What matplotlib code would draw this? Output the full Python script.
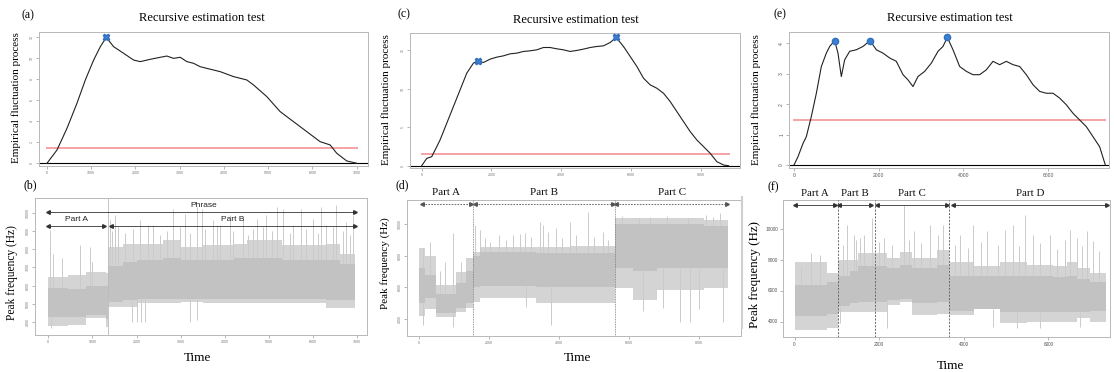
import matplotlib
matplotlib.use('Agg')
import matplotlib.pyplot as plt
import bisect

W, H = 1114, 372

# ---------------- data: top panels (empirical fluctuation process) ----------------
a_t = [0, 226, 452, 677, 866, 1054, 1205, 1340, 1505, 1731, 1957, 2108, 2333, 2559, 2710,
       2860, 3011, 3161, 3312, 3462, 3613, 3914, 4215, 4516, 4667, 4968, 5269, 5570, 5871,
       6172, 6398, 6548, 6774, 7000]
a_v = [0, 1.26, 3.32, 5.69, 7.90, 9.79, 11.06, 11.94, 11.06, 10.43, 9.79, 9.64, 9.86, 10.05,
       10.17, 9.95, 10.05, 9.64, 9.48, 9.16, 9.00, 8.69, 8.22, 7.90, 7.43, 6.32, 4.90, 3.95,
       3.00, 2.05, 1.74, 0.95, 0.22, 0.0]
a_bound = 1.48
a_brk_t = [1340]
a_brk_v = [11.94]

c_t = [0, 144, 287, 383, 526, 718, 909, 1101, 1292, 1483, 1608, 1770, 1962, 2153, 2345, 2536,
       2727, 2919, 3110, 3302, 3493, 3684, 3876, 4067, 4259, 4450, 4641, 4833, 5024, 5216,
       5407, 5579, 5790, 5981, 6173, 6364, 6555, 6747, 6938, 7130, 7321, 7512, 7704, 7895,
       8087, 8278, 8469, 8661, 8804]
c_v = [0, 0.95, 1.17, 2.03, 3.33, 5.50, 7.66, 9.83, 11.99, 13.29, 13.59, 13.38, 13.81, 14.07,
       14.24, 14.50, 14.59, 14.81, 14.89, 15.02, 15.32, 15.32, 15.15, 15.02, 14.81, 14.94,
       15.11, 15.32, 15.45, 15.54, 15.97, 16.62, 15.45, 14.16, 12.86, 11.34, 10.48, 10.04,
       9.39, 8.31, 7.01, 5.71, 4.42, 3.33, 2.47, 1.60, 0.52, 0.09, 0.0]
c_bound = 1.52
c_brk_t = [1608, 5579]
c_brk_v = [13.59, 16.62]

e_t = [0, 94, 213, 291, 409, 528, 646, 764, 843, 961, 1039, 1118, 1197, 1315, 1472, 1630,
       1795, 1945, 2102, 2260, 2417, 2575, 2693, 2811, 2929, 3087, 3244, 3402, 3520, 3622,
       3756, 3913, 4071, 4228, 4386, 4543, 4701, 4858, 5016, 5173, 5331, 5488, 5646, 5803,
       5961, 6118, 6276, 6433, 6591, 6748, 6906, 7063, 7220, 7354]
e_v = [0, 0.27, 0.71, 0.93, 1.59, 2.36, 3.24, 3.68, 3.90, 4.09, 3.68, 2.91, 3.46, 3.74, 3.79,
       3.90, 4.09, 3.79, 3.68, 3.52, 3.41, 2.97, 2.80, 2.58, 2.91, 3.08, 3.35, 3.74, 3.90,
       4.20, 3.79, 3.24, 3.08, 2.97, 2.97, 3.13, 3.41, 3.30, 3.41, 3.30, 3.24, 2.97, 2.64,
       2.42, 2.36, 2.36, 2.20, 1.98, 1.70, 1.48, 1.26, 0.93, 0.60, 0.0]
e_bound = 1.47
e_brk_t = [961, 1795, 3622]
e_brk_v = [4.09, 4.09, 4.20]

# ---------------- data: bottom panels (peak frequency) ----------------
b_seg = [0, 450, 850, 1300, 1350, 1700, 2000, 2600, 3000, 3500, 4200, 4500, 5300, 5800, 6300, 6600, 6950]
b_out_lo = [3800, 3850, 4220, 3760, 4850, 4850, 5040, 5040, 5130, 5040, 5040, 5040, 5040, 5040, 4760, 4760]
b_out_hi = [6500, 6580, 6730, 6700, 8130, 8300, 8300, 8490, 8130, 8220, 8300, 8490, 8220, 8220, 8300, 7760]
b_core_lo = [4300, 4300, 4400, 4200, 5130, 5200, 5300, 5300, 5300, 5300, 5300, 5300, 5300, 5300, 5200, 5200]
b_core_hi = [5900, 5800, 6000, 6000, 7100, 7300, 7400, 7500, 7400, 7400, 7500, 7500, 7400, 7400, 7400, 7200]
b_spk_t = [38, 113, 717, 943, 1396, 1509, 2075, 2264, 2830, 3094, 3358, 3472, 3736, 3887, 4113,
           4415, 4717, 4943, 5170, 5321, 5736, 6000, 6189, 6302, 6528, 6755, 6906,
           1434, 1585, 1736, 1924, 2377, 2528, 2679, 2981, 3207, 3547, 3811, 4189, 4528,
           4642, 4868, 5057, 5472, 5547, 5849, 6113, 6453, 6679, 6830, 300, 1000]
b_spk_v = [9036, 7763, 8218, 8127, 9581, 9854, 9581, 9309, 10218, 9945, 10309, 10218, 9581, 9309,
           9854, 9763, 9672, 9854, 10309, 10218, 10218, 9672, 10309, 9309, 10400, 9490, 9854,
           9000, 9200, 8900, 9100, 9300, 8800, 9000, 9200, 8900, 9100, 9300, 9000, 8800,
           9100, 9200, 9000, 8900, 9300, 9100, 8900, 9200, 9000, 8800, 7500, 7300]
b_low_t = [60, 1900, 2000, 2100, 2200, 3200, 3380]
b_low_v = [3700, 4040, 4000, 4040, 4040, 4040, 4130]
b_vline = [1343]
b_parts = ["Part A", "Part B"]
b_part_start = [0, 1419]
b_part_end = [1268, 6943]

d_seg = [0, 170, 500, 1075, 1360, 1550, 1740, 3360, 4310, 5617, 6120, 6790, 8150, 8835]
d_out_lo = [4200, 4600, 4150, 4460, 4670, 5100, 5300, 4990, 4990, 5940, 5200, 5800, 5940]
d_out_hi = [8500, 8000, 6150, 6990, 7830, 8250, 8570, 8570, 8630, 10360, 10360, 10360, 10250]
d_core_lo = [5000, 5300, 4400, 4700, 5000, 6000, 6100, 6000, 6000, 7200, 7000, 7200, 7200]
d_core_hi = [7200, 6800, 5600, 6300, 7000, 8000, 8250, 8200, 8200, 10000, 10000, 10000, 9900]
d_spk_t = [124, 314, 743, 980, 1600, 1742, 2028, 2694, 3027, 3475, 3551, 3932, 4313, 4836, 5264,
           6597, 8400, 8596, 1900, 2300, 2500, 2900, 3200, 3700, 4100, 4500, 5000, 5400,
           5800, 6300, 7100, 7700, 8200, 600, 1200]
d_spk_v = [8460, 8880, 7620, 9410, 9940, 9620, 8880, 9300, 9410, 10150, 9940, 9730, 10150, 10780,
           9520, 10460, 10460, 10670, 9100, 9300, 9000, 9400, 9200, 9500, 9100, 9300, 9200,
           9000, 10500, 10400, 10500, 10400, 10550, 7000, 7600]
d_low_t = [124, 980, 3075, 3789, 6978, 7454, 7740, 8692, 6400, 8000]
d_low_v = [3620, 3500, 4780, 3620, 4670, 3830, 3830, 3830, 4500, 4600]
d_vline = [1552, 5617]
d_parts = ["Part A", "Part B", "Part C"]
d_part_start = [84, 1600, 5645]
d_part_end = [1500, 5550, 8800]

f_seg = [0, 760, 1016, 1300, 1510, 1890, 2180, 2500, 2770, 3360, 3660, 4230, 4860, 5490, 6120, 6430, 6670, 6980, 7354]
f_out_lo = [3460, 3600, 4650, 4650, 4650, 4650, 5090, 5300, 4430, 4520, 4430, 4870, 3890, 4000, 4000, 4000, 4220, 4000]
f_out_hi = [7910, 7150, 8020, 8020, 8460, 8460, 8130, 8520, 8130, 8670, 7910, 7590, 7870, 7700, 7590, 7870, 7480, 7150]
f_core_lo = [4400, 4500, 5000, 5200, 5300, 5300, 5400, 5500, 5200, 5300, 4700, 4800, 4600, 4650, 4650, 4650, 4650, 4700]
f_core_hi = [6400, 6600, 7000, 7300, 7600, 7600, 7500, 7700, 7500, 7700, 7000, 7000, 7000, 7000, 6900, 7000, 6800, 6600]
f_spk_t = [386, 1236, 1394, 1551, 1630, 1827, 2102, 2575, 2811, 3205, 3520, 3913, 4228, 4543,
           4976, 5173, 5449, 5646, 6039, 6512, 6669, 6906, 7063,
           150, 600, 1150, 1450, 2000, 2300, 2700, 3000, 3400, 3800, 4100, 4400, 4800,
           5300, 5800, 6200, 6400, 6800, 7200]
f_spk_v = [8457, 10304, 9652, 9435, 9652, 10739, 9435, 11609, 9870, 10304, 10304, 9652, 10304,
           9870, 9978, 10304, 10957, 9652, 9652, 9978, 9435, 9870, 9217,
           7600, 8300, 9000, 9300, 9200, 9000, 9300, 9100, 9600, 9000, 8800, 9200, 9000,
           8900, 9100, 8700, 9300, 8900, 8600]
f_low_t = [1079, 2181, 4701, 5252, 5803, 6748]
f_low_v = [3890, 3565, 3650, 3560, 3560, 3650]
f_vline = [1016, 1890, 3661]
f_parts = ["Part A", "Part B", "Part C", "Part D"]
f_part_start = [16, 1055, 1945, 3740]
f_part_end = [960, 1811, 3598, 7378]

# ---------------- helpers ----------------
fig = plt.figure(figsize=(W / 100, H / 100), dpi=100)
fig.patch.set_facecolor('white')
SERIF = ['Liberation Serif', 'DejaVu Serif']
SANS = ['Liberation Sans', 'DejaVu Sans']


def px_axes(l, t, r, b):
    return fig.add_axes([l / W, 1 - b / H, (r - l) / W, (b - t) / H])


def ftext(x, y, s, **kw):
    fig.text(x / W, 1 - y / H, s, **kw)


def style(ax, xlim, ylim, xticks, yticks, ylab_rot=90, lsize=3.2, lcol='#777777'):
    ax.set_xlim(*xlim)
    ax.set_ylim(*ylim)
    ax.set_xticks(xticks)
    ax.set_yticks(yticks)
    for s in ax.spines.values():
        s.set_color('#b8b8b8')
        s.set_linewidth(0.7)
    ax.tick_params(length=2, width=0.5, color='#999999', labelsize=lsize,
                   labelcolor=lcol, pad=1.5)
    ax.set_xticklabels([str(v) for v in xticks], family=SANS)
    ax.set_yticklabels([str(v) for v in yticks], family=SANS, rotation=ylab_rot,
                       va='center')


def top_panel(ax, t, v, bound, bt, bv, marker, msize):
    ax.axhline(0, color='black', lw=0.8, zorder=2)
    ax.plot([t[0], t[-1]], [bound, bound], color='#f5a3a3', lw=1.4, zorder=2)
    ax.plot(t, v, color='#222222', lw=0.8, zorder=3)
    ax.plot(bt, bv, ls='none', marker=marker, ms=msize, color='#3f7fd0',
            mec='#2f6fc0', zorder=4)


def signal(ax, seg, olo, ohi, clo, chi, st, sv, lt, lv):
    ax.fill_between(seg, olo + [olo[-1]], ohi + [ohi[-1]], step='post',
                    color='#d4d4d4', lw=0, zorder=1)
    ax.fill_between(seg, clo + [clo[-1]], chi + [chi[-1]], step='post',
                    color='#c2c2c2', lw=0, zorder=2)
    for tt, vv in zip(st, sv):
        i = min(max(bisect.bisect_right(seg, tt) - 1, 0), len(chi) - 1)
        ax.vlines(tt, chi[i], vv, color='#cbcbcb', lw=0.7, zorder=1.5)
    for tt, vv in zip(lt, lv):
        i = min(max(bisect.bisect_right(seg, tt) - 1, 0), len(clo) - 1)
        ax.vlines(tt, vv, clo[i], color='#cbcbcb', lw=0.7, zorder=1.5)


def part_arrow(ax, x0, x1, y, ls='-', col='#333333'):
    ax.plot([x0, x1], [y, y], color=col, lw=0.6, ls=ls, zorder=5, clip_on=False)
    ax.plot([x0], [y], marker='<', ms=2.6, color=col, zorder=6, clip_on=False)
    ax.plot([x1], [y], marker='>', ms=2.6, color=col, zorder=6, clip_on=False)


# ---------------- (a) ----------------
ax = px_axes(39, 32, 368, 166)
top_panel(ax, a_t, a_v, a_bound, a_brk_t, a_brk_v, 'X', 4.5)
style(ax, (-181, 7255), (-0.26, 12.45), [0, 1000, 2000, 3000, 4000, 5000, 6000, 7000],
      [0, 2, 4, 6, 8, 10, 12], lsize=2.6)
ftext(202, 18, 'Recursive estimation test', family=SERIF, fontsize=9, ha='center', va='center')
ftext(16, 98, 'Empirical fluctuation process', family=SERIF, fontsize=8, rotation=90,
      ha='center', va='center')
ftext(22, 15, '(a)', family=SERIF, fontsize=8.5, ha='left', va='center')

# ---------------- (c) ----------------
ax = px_axes(410, 33, 740, 168.5)
top_panel(ax, c_t, c_v, c_bound, c_brk_t, c_brk_v, 'X', 4.5)
style(ax, (-336, 9132), (-0.36, 17.2), [0, 2000, 4000, 6000, 8000], [0, 5, 10, 15], lsize=2.6)
ftext(576, 20, 'Recursive estimation test', family=SERIF, fontsize=9, ha='center', va='center')
ftext(386, 100, 'Empirical fluctuation process', family=SERIF, fontsize=8, rotation=90,
      ha='center', va='center')
ftext(397, 14, '(c)', family=SERIF, fontsize=8.5, ha='left', va='center')

# ---------------- (e) ----------------
ax = px_axes(789, 32, 1109, 168)
top_panel(ax, e_t, e_v, e_bound, e_brk_t, e_brk_v, 'o', 4.5)
style(ax, (-118, 7441), (-0.1, 4.375), [0, 2000, 4000, 6000], [0, 1, 2, 3, 4], lsize=3.6,
      lcol='#555555')
ftext(950, 18, 'Recursive estimation test', family=SERIF, fontsize=9, ha='center', va='center')
ftext(756, 100, 'Empirical fluctuation process', family=SERIF, fontsize=8, rotation=90,
      ha='center', va='center')
ftext(774, 14, '(e)', family=SERIF, fontsize=8.5, ha='left', va='center')

# ---------------- (b) ----------------
ax = px_axes(35, 198, 367, 335)
signal(ax, b_seg, b_out_lo, b_out_hi, b_core_lo, b_core_hi, b_spk_t, b_spk_v, b_low_t, b_low_v)
for xv in b_vline:
    ax.axvline(xv, color='#bbbbbb', lw=0.6, zorder=3)
style(ax, (-301, 7220), (3305, 10804), [0, 1000, 2000, 3000, 4000, 5000, 6000, 7000],
      [4000, 5000, 6000, 7000, 8000, 9000, 10000], lsize=2.6)
part_arrow(ax, 0, 6943, 10036)
ax.text(3510, 10420, 'Phrase', family=SANS, fontsize=6, ha='center', va='center', color='#222222')
for name, s0, s1 in zip(b_parts, b_part_start, b_part_end):
    part_arrow(ax, s0, s1, 9272)
    ax.text((s0 + s1) / 2, 9650, name, family=SANS, fontsize=6,
            ha='center', va='center', color='#222222')
ftext(12, 273, 'Peak frequency (Hz)', family=SERIF, fontsize=8.3, rotation=90,
      ha='center', va='center')
ftext(197, 358, 'Time', family=SERIF, fontsize=9.5, ha='center', va='center')
ftext(23, 185, '(b)', family=SERIF, fontsize=8.5, ha='left', va='center')

# ---------------- (d) ----------------
ax = px_axes(407, 200, 741, 336)
signal(ax, d_seg, d_out_lo, d_out_hi, d_core_lo, d_core_hi, d_spk_t, d_spk_v, d_low_t, d_low_v)
for xv in d_vline:
    ax.axvline(xv, color='#777777', lw=0.6, ls=(0, (1, 1)), zorder=3)
style(ax, (-334, 9200), (2926, 11516), [0, 2000, 4000, 6000, 8000],
      [4000, 6000, 8000, 10000], lsize=2.6)
for name, s0, s1 in zip(d_parts, d_part_start, d_part_end):
    part_arrow(ax, s0, s1, 11240, ls=(0, (2, 1.5)), col='#555555')
    ax.text((s0 + s1) / 2, 11960, name, family=SERIF, fontsize=8, ha='center',
            va='center', color='#111111', clip_on=False)
ftext(385, 263, 'Peak frequency (Hz)', family=SERIF, fontsize=8, rotation=90,
      ha='center', va='center')
ftext(577, 358, 'Time', family=SERIF, fontsize=9.5, ha='center', va='center')
ftext(396, 185, '(d)', family=SERIF, fontsize=8.5, ha='left', va='center')

# ---------------- (f) ----------------
ax = px_axes(783, 200, 1110, 337)
signal(ax, f_seg, f_out_lo, f_out_hi, f_core_lo, f_core_hi, f_spk_t, f_spk_v, f_low_t, f_low_v)
for xv in f_vline:
    ax.axvline(xv, color='#666666', lw=0.7, ls=(0, (2, 1.5)), zorder=3)
style(ax, (-274, 7456), (3006, 11905), [0, 2000, 4000, 6000],
      [4000, 6000, 8000, 10000], ylab_rot=0, lsize=3.4, lcol='#555555')
for name, s0, s1 in zip(f_parts, f_part_start, f_part_end):
    part_arrow(ax, s0, s1, 11609)
    ax.text((s0 + s1) / 2, 12330, name, family=SERIF, fontsize=7.8, ha='center',
            va='center', color='#111111', clip_on=False)
ftext(755, 275, 'Peak frequency (Hz)', family=SERIF, fontsize=9.3, rotation=90,
      ha='center', va='center')
ftext(950, 366, 'Time', family=SERIF, fontsize=9.5, ha='center', va='center')
ftext(768, 187, '(f)', family=SERIF, fontsize=8.5, ha='left', va='center')

# composite panel border remnant
fig.add_artist(plt.Line2D([742 / W, 742 / W], [1 - 197 / H, 1 - 328 / H],
                          color='#cfcfcf', lw=1.5))

fig.savefig('out.png', dpi=100, facecolor='white')
